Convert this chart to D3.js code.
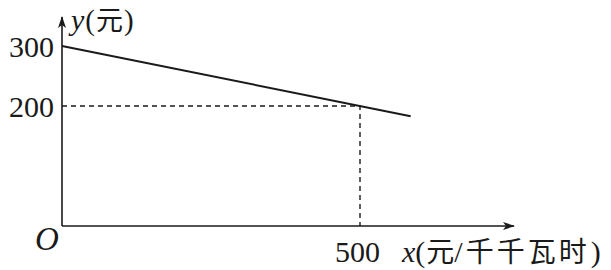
<!DOCTYPE html>
<html><head><meta charset="utf-8">
<script src="https://cdn.jsdelivr.net/npm/d3@7"></script>
<style>
html,body{margin:0;padding:0;background:#fff;}
svg{display:block;}
</style></head>
<body>
<script>
// Data
const lineX = [0, 585];
const lineY = [300, 183];
const refPoint = [500, 200];
const yTicks = [300, 200];
const xTicks = [500];
const yLabel = ["y", "(", "元", ")"];
const xLabel = ["x", "(", "元", "/", "千千瓦时", ")"];
const originLabel = "O";

const W = 611, H = 270;
const svg = d3.select("body").append("svg").attr("width", W).attr("height", H);
const ink = "#1a1a1a";
const serif = "'Liberation Serif','Times New Roman',serif";
const cjk = "'Noto Sans CJK SC',sans-serif";

const x = d3.scaleLinear().domain([0, 500]).range([62, 360]);
const y = d3.scaleLinear().domain([0, 300]).range([226, 46]);

// arrow marker
const defs = svg.append("defs");
defs.append("marker").attr("id", "arr").attr("viewBox", "0 0 12 8")
  .attr("refX", 11).attr("refY", 4).attr("markerWidth", 12).attr("markerHeight", 8)
  .attr("markerUnits", "userSpaceOnUse").attr("orient", "auto")
  .append("path").attr("d", "M0,0 L12,4 L0,8 L3,4 Z").attr("fill", ink);

// axes (arrows)
svg.append("line").attr("x1", x(0)).attr("y1", y(0)).attr("x2", 514).attr("y2", y(0))
  .attr("stroke", ink).attr("stroke-width", 1.6).attr("marker-end", "url(#arr)");
svg.append("line").attr("x1", x(0)).attr("y1", y(0)).attr("x2", x(0)).attr("y2", 17)
  .attr("stroke", ink).attr("stroke-width", 1.6).attr("marker-end", "url(#arr)");

// axis tick labels via d3 axes
const gx = svg.append("g").attr("transform", `translate(0,${y(0)})`)
  .call(d3.axisBottom(x).tickValues(xTicks).tickSize(0).tickPadding(0).tickFormat(d3.format("d")));
gx.select(".domain").remove();
gx.selectAll("text").attr("font-family", serif).attr("font-size", 30).attr("fill", ink)
  .attr("dy", null).attr("y", 36).attr("text-anchor", "middle").attr("dx", -3);

const gy = svg.append("g").attr("transform", `translate(${x(0)},0)`)
  .call(d3.axisLeft(y).tickValues(yTicks).tickSize(0).tickPadding(8).tickFormat(d3.format("d")));
gy.select(".domain").remove();
gy.selectAll("text").attr("font-family", serif).attr("font-size", 30).attr("fill", ink)
  .attr("dy", "0.34em");

// dashed guide lines
svg.append("path")
  .attr("d", d3.line()([[x(0), y(refPoint[1])], [x(refPoint[0]), y(refPoint[1])], [x(refPoint[0]), y(0)]]))
  .attr("fill", "none").attr("stroke", ink).attr("stroke-width", 1.4).attr("stroke-dasharray", "5,4");

// main line
const pts = lineX.map((v, i) => [x(v), y(lineY[i])]);
svg.append("path").attr("d", d3.line()(pts)).attr("fill", "none")
  .attr("stroke", ink).attr("stroke-width", 2);

// origin
svg.append("text").attr("x", 35).attr("y", 250).attr("font-family", serif)
  .attr("font-style", "italic").attr("font-size", 33).attr("fill", ink).text(originLabel);

// y label
const yl = svg.append("text").attr("x", 71).attr("y", 30).attr("fill", ink);
yl.append("tspan").attr("font-family", serif).attr("font-style", "italic").attr("font-size", 30).text(yLabel[0]);
yl.append("tspan").attr("font-family", serif).attr("font-size", 29).attr("dx", 1).text(yLabel[1]);
yl.append("tspan").attr("font-family", cjk).attr("font-size", 27).attr("dx", 1).text(yLabel[2]);
yl.append("tspan").attr("font-family", serif).attr("font-size", 29).attr("dx", 1).text(yLabel[3]);

// x label
const xl = svg.append("text").attr("x", 402).attr("y", 262).attr("fill", ink);
xl.append("tspan").attr("font-family", serif).attr("font-style", "italic").attr("font-size", 30).text(xLabel[0]);
xl.append("tspan").attr("font-family", serif).attr("font-size", 30).text(xLabel[1]);
xl.append("tspan").attr("font-family", cjk).attr("font-size", 28).attr("dx", 1).text(xLabel[2]);
xl.append("tspan").attr("font-family", serif).attr("font-size", 30).text(xLabel[3]);
xl.append("tspan").attr("font-family", cjk).attr("font-size", 28).attr("letter-spacing", 3).attr("dx", 3).text(xLabel[4]);
xl.append("tspan").attr("font-family", serif).attr("font-size", 30).attr("dx", 1).text(xLabel[5]);
</script>
</body></html>
